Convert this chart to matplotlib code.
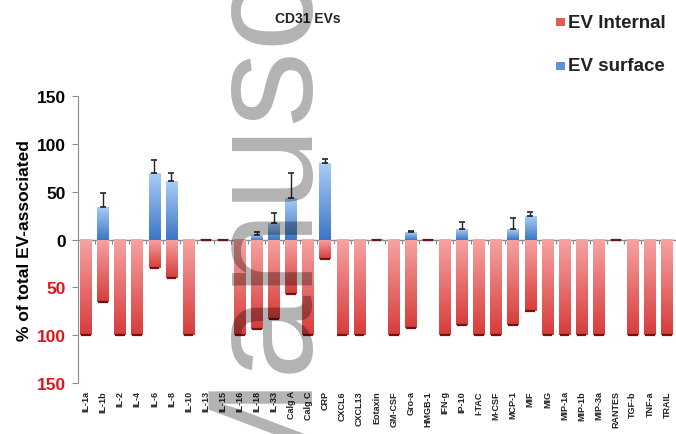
import numpy as np
import matplotlib
matplotlib.use("Agg")
import matplotlib.pyplot as plt
import matplotlib.transforms as mtransforms
from matplotlib.colors import LinearSegmentedColormap

# cytokine panel for CD31 EVs
cytokines = ["IL-1a", "IL-1b", "IL-2", "IL-4", "IL-6", "IL-8", "IL-10", "IL-13",
             "IL-15", "IL-16", "IL-18", "IL-33", "Calg A", "Calg C", "CRP", "CXCL6",
             "CXCL13", "Eotaxin", "GM-CSF", "Gro-a", "HMGB-1", "IFN-g", "IP-10",
             "I-TAC", "M-CSF", "MCP-1", "MIF", "MIG", "MIP-1a", "MIP-1b", "MIP-3a",
             "RANTES", "TGF-b", "TNF-a", "TRAIL"]

# % internal (drawn downwards) and % surface (drawn upwards)
internal = [100, 65, 100, 100, 30, 40, 100, 1, 1, 100, 94, 83, 57, 100, 20, 100,
            100, 1, 100, 92, 1, 100, 89, 100, 100, 89, 75, 100, 100, 100, 100,
            1, 100, 100, 100]
surface = [0, 34, 0, 0, 70, 61, 0, 0, 0, 0, 5, 17, 43, 0, 80, 0,
           0, 0, 0, 8, 0, 0, 11, 0, 0, 11, 25, 0, 0, 0, 0,
           0, 0, 0, 0]
surface_err = [0, 15, 0, 0, 13, 8, 0, 0, 0, 0, 3, 11, 27, 0, 4, 0,
               0, 0, 0, 0.5, 0, 0, 7, 0, 0, 12, 4, 0, 0, 0, 0,
               0, 0, 0, 0]

ytick_vals = [150, 100, 50, 0, -50, -100, -150]
ytick_text = ["150", "100", "50", "0", "50", "100", "150"]

font = "Liberation Sans"

fig = plt.figure(figsize=(6.76, 4.35), dpi=100)
ax = fig.add_axes([0.1154, 0.1172, 0.884, 0.6598])

x = np.arange(len(cytokines))
width = 0.68

red_cmap = LinearSegmentedColormap.from_list("red", ["#f7a3a3", "#d63c3a"])
blue_cmap = LinearSegmentedColormap.from_list("blue", ["#a9cdf5", "#3b76c6"])
grad = np.linspace(0, 1, 256).reshape(-1, 1)


def gradient_fill(bars, cmap):
    # vertical gradient per bar: light near zero (red) / at the top (blue), darker at the other end
    for r in bars:
        x0, w, h = r.get_x(), r.get_width(), r.get_height()
        if h == 0:
            continue
        lo, hi = min(0, h), max(0, h)
        ax.imshow(grad, cmap=cmap, extent=[x0, x0 + w, lo, hi], origin="upper",
                  aspect="auto", zorder=2, interpolation="bilinear")


neg = -np.array(internal, dtype=float)
pos = np.array(surface, dtype=float)

red_bars = ax.bar(x, neg, width, color="none", edgecolor="none", zorder=2)
blue_bars = ax.bar(x, pos, width, color="none", edgecolor="none", zorder=2)
gradient_fill(red_bars, red_cmap)
gradient_fill(blue_bars, blue_cmap)

# dark rounded end of the internal bars
ax.hlines(neg, x - width * 0.42, x + width * 0.42, colors="#6b1515", lw=1.6, zorder=3)

# error bars on the surface fraction (upper side only)
has_err = np.array(surface_err) > 0
ax.errorbar(x[has_err], pos[has_err],
            yerr=[np.zeros(has_err.sum()), np.array(surface_err)[has_err]],
            fmt="none", ecolor="#222222", elinewidth=1, capsize=2.5, capthick=1.2,
            zorder=4)

ax.set_xlim(-0.47, len(cytokines) - 0.54)
ax.set_ylim(-150, 150)

# left axis
ax.spines["top"].set_visible(False)
ax.spines["right"].set_visible(False)
ax.spines["left"].set_color("#8c8c8c")
ax.spines["left"].set_linewidth(0.8)
ax.spines["bottom"].set_position(("data", 0))
ax.spines["bottom"].set_color("#8c8c8c")
ax.spines["bottom"].set_linewidth(1)
ax.spines["bottom"].set_zorder(1)

ax.set_yticks(ytick_vals)
ax.set_yticklabels(ytick_text, fontsize=12.5, fontweight="bold", family=font)
for lab, v in zip(ax.get_yticklabels(), ytick_vals):
    lab.set_color("#e8101a" if v < 0 else "black")
ax.tick_params(axis="y", direction="out", length=4, color="#8c8c8c", pad=5)

# small boundary ticks on the zero line
ax.set_xticks(x + 0.5)
ax.set_xticklabels([])
ax.tick_params(axis="x", direction="out", length=3, color="#8c8c8c", width=0.8)

trans = mtransforms.blended_transform_factory(ax.transData, ax.transAxes)
for xi, name in zip(x, cytokines):
    ax.text(xi, -0.025, name, transform=trans, rotation=90, ha="center", va="top",
            fontsize=6.5, fontweight="bold", family=font, color="#222222")

ax.set_ylabel("% of total EV-associated", fontsize=12.5, fontweight="bold",
              family=font, labelpad=3)

fig.text(0.456, 0.957, "CD31 EVs", ha="center", va="center", fontsize=10,
         fontweight="bold", family=font, color="#222222")

# legend
fig.patches.append(plt.Rectangle((0.823, 0.937), 0.0125, 0.02, transform=fig.transFigure,
                                 facecolor="#e25a5a", edgecolor="none"))
fig.patches.append(plt.Rectangle((0.823, 0.836), 0.0125, 0.02, transform=fig.transFigure,
                                 facecolor="#5b93dc", edgecolor="none"))
fig.text(0.840, 0.947, "EV Internal", ha="left", va="center", fontsize=13.5,
         fontweight="bold", family=font, color="#222222")
fig.text(0.840, 0.846, "EV surface", ha="left", va="center", fontsize=13.5,
         fontweight="bold", family=font, color="#222222")

# repository watermark across the figure
fig.text(0.445, 0.7195, "Manuscript", rotation=90, rotation_mode="anchor",
         ha="center", va="baseline", fontsize=109, family=font, color="black",
         alpha=0.3, zorder=10)

fig.savefig("out.png", dpi=100)
